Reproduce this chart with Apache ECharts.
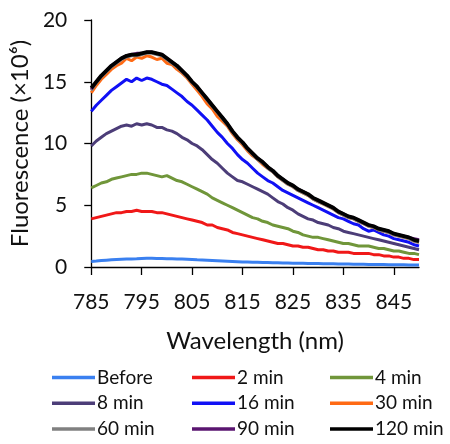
<!DOCTYPE html>
<html>
<head>
<meta charset="utf-8">
<script src="https://cdn.jsdelivr.net/npm/echarts@6/dist/echarts.min.js"></script>
<style>
html,body{margin:0;padding:0;background:#fff;}
#chart{width:450px;height:444px;}
</style>
</head>
<body>
<div id="chart"></div>
<script>
// Wavelengths (nm)
const wavelengths = [
  785,786,787,788,789,790,791,792,793,794,
  795,796,797,798,799,800,801,802,803,804,
  805,806,807,808,809,810,811,812,813,814,
  815,816,817,818,819,820,821,822,823,824,
  825,826,827,828,829,830,831,832,833,834,
  835,836,837,838,839,840,841,842,843,844,
  845,846,847,848,849,850
];
const xTicks = [785,795,805,815,825,835,845];
const yTicks = [0,5,10,15,20];

const before = [
  0.45,0.48,0.52,0.55,0.58,0.60,0.62,0.64,0.65,0.66,
  0.68,0.70,0.70,0.69,0.68,0.67,0.66,0.65,0.64,0.62,
  0.60,0.58,0.57,0.55,0.53,0.51,0.49,0.47,0.45,0.43,
  0.41,0.40,0.39,0.38,0.37,0.36,0.35,0.34,0.33,0.32,
  0.31,0.30,0.30,0.29,0.28,0.28,0.27,0.26,0.26,0.25,
  0.24,0.24,0.23,0.22,0.22,0.21,0.21,0.20,0.20,0.19,
  0.19,0.18,0.18,0.17,0.17,0.16
];
const min2 = [
  3.9,4.0,4.1,4.2,4.3,4.4,4.4,4.5,4.5,4.6,
  4.5,4.5,4.5,4.4,4.4,4.3,4.2,4.1,4.0,3.9,
  3.8,3.7,3.6,3.4,3.4,3.2,3.1,3.0,2.8,2.7,
  2.6,2.5,2.4,2.3,2.2,2.1,2.0,1.9,1.9,1.8,
  1.7,1.7,1.6,1.6,1.5,1.4,1.4,1.3,1.3,1.2,
  1.2,1.2,1.1,1.1,1.1,1.1,1.0,1.0,0.9,0.9,
  0.8,0.8,0.7,0.7,0.6,0.6
];
const min4 = [
  6.4,6.6,6.8,6.9,7.1,7.2,7.3,7.4,7.5,7.5,
  7.6,7.6,7.5,7.4,7.3,7.4,7.2,7.0,6.9,6.7,
  6.5,6.3,6.1,5.9,5.6,5.4,5.2,5.0,4.8,4.6,
  4.4,4.2,4.0,3.9,3.7,3.6,3.4,3.3,3.2,3.1,
  2.9,2.8,2.6,2.5,2.4,2.4,2.3,2.2,2.1,2.0,
  1.9,1.9,1.8,1.7,1.7,1.7,1.6,1.5,1.5,1.4,
  1.3,1.3,1.2,1.1,1.1,1.0
];
const min8 = [
  9.8,10.2,10.5,10.8,11.0,11.2,11.4,11.5,11.4,11.6,
  11.5,11.6,11.5,11.3,11.3,11.1,11.0,10.8,10.5,10.3,
  10.0,9.8,9.5,9.1,8.7,8.4,8.0,7.6,7.3,7.0,
  6.9,6.7,6.5,6.3,6.1,5.9,5.6,5.3,5.1,4.8,
  4.6,4.3,4.1,3.9,3.8,3.6,3.5,3.4,3.2,3.1,
  2.9,2.8,2.7,2.6,2.5,2.4,2.3,2.2,2.1,2.0,
  1.9,1.8,1.7,1.6,1.5,1.4
];
const min16 = [
  12.6,13.1,13.5,13.9,14.3,14.6,14.9,15.2,15.0,15.3,
  15.1,15.3,15.2,15.0,14.8,14.7,14.4,14.1,13.8,13.4,
  13.1,12.7,12.3,11.9,11.4,10.9,10.5,10.0,9.6,9.1,
  8.7,8.4,8.0,7.6,7.3,7.0,6.8,6.5,6.2,6.0,
  5.8,5.6,5.4,5.2,5.0,4.8,4.6,4.4,4.2,4.0,
  3.9,3.7,3.5,3.4,3.1,2.9,3.0,2.8,2.6,2.5,
  2.3,2.2,2.1,2.0,1.8,1.7
];
const min30 = [
  14.1,14.7,15.2,15.6,16.0,16.3,16.5,16.9,16.7,17.0,
  16.9,17.1,17.0,16.8,16.9,16.5,16.4,16.0,15.7,15.3,
  14.8,14.3,13.8,13.2,12.8,12.2,11.8,11.4,10.8,10.3,
  9.9,9.4,9.0,8.7,8.3,8.0,7.7,7.3,7.0,6.7,
  6.5,6.2,6.0,5.8,5.5,5.3,5.1,4.9,4.7,4.4,
  4.2,4.0,3.9,3.7,3.5,3.3,3.2,3.0,2.9,2.8,
  2.6,2.5,2.4,2.3,2.1,2.0
];
const min60 = [
  14.3,14.9,15.4,15.8,16.2,16.5,16.8,17.0,17.1,17.1,
  17.2,17.3,17.3,17.2,17.1,16.8,16.5,16.2,15.8,15.4,
  14.9,14.5,14.0,13.5,13.0,12.5,12.0,11.5,10.9,10.4,
  10.0,9.5,9.1,8.7,8.4,8.0,7.7,7.3,7.0,6.7,
  6.5,6.2,6.0,5.8,5.5,5.3,5.1,4.9,4.7,4.4,
  4.2,4.0,3.9,3.7,3.5,3.3,3.2,3.0,2.9,2.8,
  2.6,2.5,2.4,2.3,2.1,2.0
];
const min90 = [
  14.4,15.0,15.5,15.9,16.3,16.6,16.9,17.1,17.2,17.3,
  17.3,17.4,17.4,17.3,17.2,16.9,16.6,16.3,15.9,15.5,
  15.0,14.6,14.1,13.6,13.1,12.6,12.1,11.6,11.0,10.5,
  10.1,9.6,9.2,8.8,8.5,8.1,7.8,7.4,7.1,6.8,
  6.6,6.3,6.1,5.9,5.6,5.4,5.2,5.0,4.8,4.5,
  4.3,4.1,4.0,3.8,3.6,3.4,3.3,3.1,3.0,2.9,
  2.7,2.6,2.5,2.4,2.3,2.2
];
const min120 = [
  14.5,15.0,15.5,15.9,16.3,16.6,16.9,17.1,17.2,17.2,
  17.3,17.4,17.4,17.3,17.2,16.9,16.6,16.3,15.9,15.5,
  15.0,14.6,14.1,13.6,13.1,12.6,12.1,11.6,11.0,10.5,
  10.1,9.6,9.2,8.8,8.5,8.1,7.8,7.4,7.1,6.8,
  6.6,6.3,6.1,5.9,5.6,5.4,5.2,5.0,4.8,4.5,
  4.3,4.1,4.0,3.8,3.6,3.4,3.3,3.1,3.0,2.9,
  2.7,2.6,2.5,2.4,2.2,2.1
];

const seriesNames = ['Before','2 min','4 min','8 min','16 min','30 min','60 min','90 min','120 min'];
const seriesValues = [before,min2,min4,min8,min16,min30,min60,min90,min120];
const seriesColors = ['#3a80f0','#f01818','#70963a','#4c3d78','#1010f5','#ff6a14','#808080','#5a1570','#000000'];
const seriesWidths = [3,3,3,3,3,3,3,3,3.8];

const FONT = 'Lato';

const chart = echarts.init(document.getElementById('chart'), null, {renderer:'canvas'});
const series = seriesNames.map((name, k) => ({
  name: name,
  type: 'line',
  showSymbol: false,
  symbol: 'none',
  smooth: false,
  animation: false,
  lineStyle: {color: seriesColors[k], width: seriesWidths[k]},
  itemStyle: {color: seriesColors[k]},
  data: wavelengths.map((w, i) => [w, seriesValues[k][i]])
}));

function legendCol(names, left) {
  return {
    data: names,
    orient: 'vertical',
    left: left,
    top: 368,
    icon: 'rect',
    itemWidth: 43,
    itemHeight: 3.5,
    itemGap: 6.7,
    padding: 0,
    selectedMode: false,
    textStyle: {fontFamily: FONT, fontSize: 19, color: '#111', lineHeight: 19, padding: [0,0,0,-3]}
  };
}

chart.setOption({
  animation: false,
  backgroundColor: '#ffffff',
  grid: {left: 90, right: 31, top: 20, bottom: 177, containLabel: false},
  xAxis: {
    type: 'value',
    min: 785,
    max: 850,
    name: 'Wavelength (nm)',
    nameLocation: 'middle',
    nameGap: 62,
    nameTextStyle: {fontFamily: FONT, fontSize: 24, color: '#111'},
    axisLine: {show: true, lineStyle: {color: '#000', width: 1.3}},
    axisTick: {show: true, length: 8, inside: false, customValues: xTicks, lineStyle: {color: '#000', width: 1.3}},
    axisLabel: {customValues: xTicks, fontFamily: FONT, fontSize: 21, color: '#111', margin: 25},
    splitLine: {show: false}
  },
  yAxis: {
    type: 'value',
    min: 0,
    max: 20,
    interval: 5,
    name: 'Fluorescence (×10⁶)',
    nameLocation: 'middle',
    nameGap: 44,
    nameRotate: 90,
    nameTextStyle: {fontFamily: FONT, fontSize: 24, color: '#111'},
    axisLine: {show: true, lineStyle: {color: '#000', width: 1.3}},
    axisTick: {show: true, length: 7, inside: false, lineStyle: {color: '#000', width: 1.3}},
    axisLabel: {fontFamily: FONT, fontSize: 21, color: '#111', margin: 24, padding: [6,0,0,0]},
    splitLine: {show: false}
  },
  legend: [
    legendCol(['Before','8 min','60 min'], 52),
    legendCol(['2 min','16 min','90 min'], 192),
    legendCol(['4 min','30 min','120 min'], 330)
  ],
  series: series
});
</script>
</body>
</html>
